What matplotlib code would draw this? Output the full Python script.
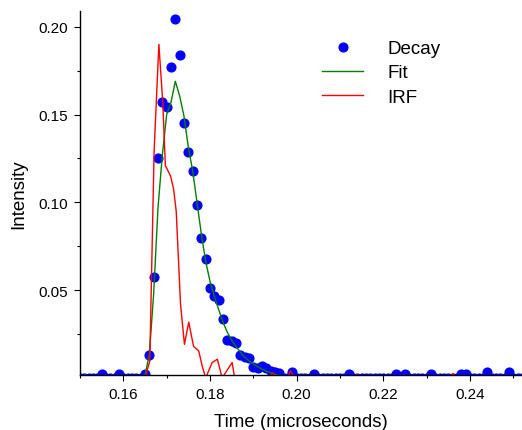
import numpy as np
import matplotlib
matplotlib.use("Agg")
import matplotlib.pyplot as plt
from matplotlib.ticker import MultipleLocator, FormatStrFormatter

plt.rcParams['font.family'] = ['Liberation Sans', 'DejaVu Sans']

# time grid of the decay / fit (microseconds), 0.150 ... 0.252
t = np.round(np.linspace(0.150, 0.252, 103), 3)

decay = [
    0, 0, 0, 0, 0, 0.002, 0, 0, 0, 0.002,                      # 0.150-0.159
    0, 0, 0, 0, 0, 0.002, 0.0129, 0.0576, 0.125, 0.157,         # 0.160-0.169
    0.1545, 0.177, 0.2045, 0.184, 0.145, 0.1288, 0.1178, 0.0985, 0.080, 0.0677,  # 0.170-0.179
    0.051, 0.0466, 0.0443, 0.0335, 0.0217, 0.0211, 0.0198, 0.0131, 0.012, 0.0112,  # 0.180-0.189
    0.0064, 0.0055, 0.0068, 0.0055, 0.004, 0.0032, 0.003, 0, 0, 0.0035,  # 0.190-0.199
    0, 0, 0, 0, 0.002, 0, 0, 0, 0, 0,                           # 0.200-0.209
    0, 0, 0.002, 0, 0, 0, 0, 0, 0, 0,                           # 0.210-0.219
    0, 0, 0, 0.0025, 0, 0.0025, 0, 0, 0, 0,                     # 0.220-0.229
    0, 0.0022, 0, 0, 0, 0, 0, 0, 0.0022, 0.0022,                # 0.230-0.239
    0, 0, 0, 0, 0.0034, 0, 0, 0, 0, 0.0034,                     # 0.240-0.249
    0, 0, 0,                                                    # 0.250-0.252
]

fit = [
    0, 0, 0, 0, 0, 0, 0, 0, 0, 0,                               # 0.150-0.159
    0, 0, 0, 0, 0, 0.0015, 0.0135, 0.048, 0.097, 0.127,         # 0.160-0.169
    0.150, 0.157, 0.169, 0.1606, 0.149, 0.1315, 0.118, 0.100, 0.082, 0.0665,  # 0.170-0.179
    0.055, 0.0466, 0.039, 0.0318, 0.026, 0.0215, 0.018, 0.0147, 0.0118, 0.0098,  # 0.180-0.189
    0.0081, 0.0064, 0.005, 0.0038, 0.003, 0.0021, 0.0015, 0.001, 0.0005, 0,  # 0.190-0.199
] + [0] * 53                                                    # 0.200-0.252

irf_t = [0.150, 0.1639, 0.1651, 0.1661, 0.1671, 0.1682, 0.1691, 0.1697, 0.1709,
         0.1716, 0.1722, 0.1732, 0.1741, 0.1751, 0.1762, 0.1774, 0.1782, 0.1790,
         0.1805, 0.1817, 0.1828, 0.1851, 0.1857, 0.1935, 0.1944, 0.1953, 0.1978,
         0.1986, 0.1995, 0.2133, 0.2140, 0.2147, 0.2353, 0.2360, 0.2367, 0.252]
irf_v = [0, 0, 0.001, 0.0095, 0.129, 0.190, 0.157, 0.121, 0.115,
         0.1076, 0.095, 0.042, 0.0192, 0.0318, 0.018, 0.0154, 0.0068, 0,
         0.0088, 0.0107, 0, 0.0088, 0, 0, 0.003, 0, 0,
         0.004, 0, 0, 0.002, 0, 0, 0.0025, 0, 0]

fig = plt.figure(figsize=(5.22, 4.31), dpi=100)
ax = fig.add_axes([80 / 522, 55 / 431, 442 / 522, 364 / 431])

ax.plot(t, decay, 'o', color='#0000ff', markersize=6.3, label='Decay')
ax.plot(t, fit, '-', color='#008000', lw=1.0, label='Fit')
ax.plot(irf_t, irf_v, '-', color='#ff0000', lw=1.0, label='IRF')

ax.set_xlim(0.150, 0.252)
ax.set_ylim(0.0017, 0.209)

ax.xaxis.set_major_locator(MultipleLocator(0.02))
ax.xaxis.set_minor_locator(MultipleLocator(0.01))
ax.yaxis.set_major_locator(MultipleLocator(0.05))
ax.yaxis.set_minor_locator(MultipleLocator(0.025))
ax.xaxis.set_major_formatter(FormatStrFormatter('%.2f'))
ax.yaxis.set_major_formatter(FormatStrFormatter('%.2f'))

ax.spines['top'].set_visible(False)
ax.spines['right'].set_visible(False)
for s in ['left', 'bottom']:
    ax.spines[s].set_linewidth(1.0)

ax.tick_params(which='major', direction='out', length=4.5, width=0.8, labelsize=11, pad=4)
ax.tick_params(which='minor', direction='out', length=2.5, width=0.8)

ax.set_xlabel('Time (microseconds)', fontsize=13.5, labelpad=9)
ax.set_ylabel('Intensity', fontsize=13.5, labelpad=8)

ax.legend(loc='upper left', bbox_to_anchor=(0.5475, 0.92), frameon=False,
          fontsize=13.5, numpoints=1, borderpad=0, handlelength=2.2,
          handletextpad=1.3, labelspacing=0.38, borderaxespad=0)

fig.savefig('out.png', dpi=100)
